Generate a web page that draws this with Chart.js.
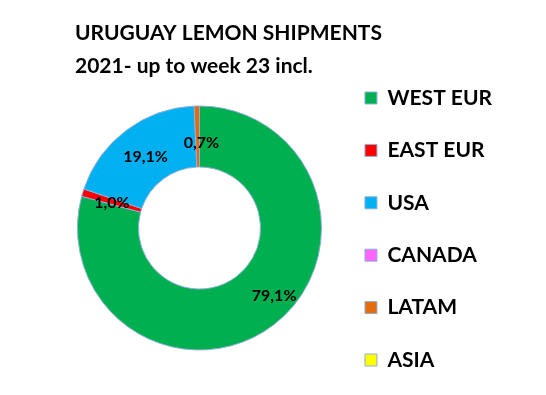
<!DOCTYPE html>
<html>
<head>
<meta charset="utf-8">
<script src="https://cdn.jsdelivr.net/npm/chart.js@4.4.1/dist/chart.umd.min.js"></script>
<style>
    html, body { margin: 0; padding: 0; background: #fff; }
    #wrap { width: 546px; height: 395px; position: relative; }
</style>
</head>
<body>
<div id="wrap"><canvas id="lemonChart"></canvas></div>
<script>
const regions = ['WEST EUR', 'EAST EUR', 'USA', 'CANADA', 'LATAM', 'ASIA'];
const sharePct = [79.1, 1.0, 19.1, 0, 0.7, 0];
const sliceColors = ['#00b050', '#ff0000', '#00b0f0', '#ff66ff', '#e46c0a', '#ffff00'];
const titleLines = ['URUGUAY LEMON SHIPMENTS', '2021- up to week 23 incl.'];

// small nudges so the % labels sit where excel put them
const labelNudge = [[19, -5], [0, 1], [1, 2], [0, 0], [4, 6], [0, 0]];

const sliceLabels = {
    id: 'sliceLabels',
    afterDatasetsDraw(chart) {
        const ctx = chart.ctx;
        const meta = chart.getDatasetMeta(0);
        ctx.save();
        ctx.font = 'bold 16px Lato';
        ctx.fillStyle = '#000';
        ctx.textAlign = 'center';
        ctx.textBaseline = 'middle';
        meta.data.forEach((arc, i) => {
            const v = sharePct[i];
            if (!v) return;
            const p = arc.tooltipPosition();
            ctx.fillText(v.toFixed(1).replace('.', ',') + '%', p.x + labelNudge[i][0], p.y + labelNudge[i][1]);
        });
        ctx.restore();
    }
};

new Chart(document.getElementById('lemonChart'), {
    type: 'doughnut',
    data: {
        labels: regions,
        datasets: [{
            data: sharePct,
            backgroundColor: sliceColors,
            borderColor: '#8eaedb',
            borderWidth: 1,
            radius: 122,
            cutout: '50%'
        }]
    },
    options: {
        responsive: true,
        maintainAspectRatio: false,
        animation: false,
        layout: { padding: { left: 75, right: 44, top: 0, bottom: -18 } },
        plugins: {
            title: {
                display: true,
                text: titleLines,
                align: 'start',
                color: '#000',
                font: { family: 'Lato', size: 21, weight: 'bold', lineHeight: '33px' },
                padding: { top: 17, bottom: -22 }
            },
            legend: {
                position: 'right',
                align: 'start',
                title: { display: true, text: '', font: { size: 12 }, padding: { top: 32.1, bottom: 0 } },
                labels: {
                    boxWidth: 12,
                    boxHeight: 12,
                    padding: 41,
                    color: '#000',
                    font: { family: 'Lato', size: 21, weight: 'bold', lineHeight: '11.4px' },
                    generateLabels(chart) {
                        const base = Chart.overrides.doughnut.plugins.legend.labels.generateLabels(chart);
                        return base.map(l => ({ ...l, text: [l.text] }));
                    }
                }
            },
            tooltip: { enabled: false }
        }
    },
    plugins: [sliceLabels]
});
</script>
</body>
</html>
